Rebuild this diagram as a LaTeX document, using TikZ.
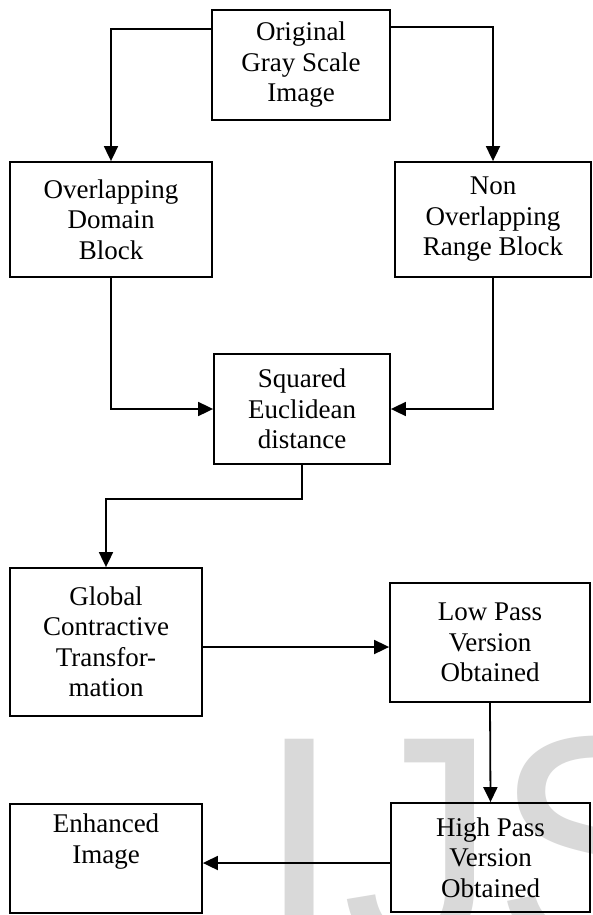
\documentclass[tikz,border=0pt]{standalone}
\usepackage{fontspec}
\setmainfont{Liberation Serif}
\newfontfamily\wmfont{Liberation Sans}
\usetikzlibrary{arrows.meta}
\begin{document}
\begin{tikzpicture}[x=1pt,y=-1pt,
  box/.style={draw=black, line width=1.8pt, inner sep=0pt, align=center,
    font=\fontsize{27}{30.5}\selectfont},
  arr/.style={line width=1.8pt, -{Triangle[length=15pt,width=14pt]}},
]
\useasboundingbox (0,0) rectangle (592,915);
\fill[white] (0,0) rectangle (592,915);
% watermark
\begin{scope}
\clip (0,0) rectangle (592,915);
\node[anchor=base west, inner sep=0pt, text=black!15,
  font=\wmfont\fontsize{310}{310}\selectfont] (wm) at (256,952) {IJ\kern-4pt SER};
\end{scope}
% boxes
\node[box, minimum width=178pt, minimum height=110pt] (orig) at (301,65) {Original\\Gray Scale\\Image};
\node[box, minimum width=202pt, minimum height=115pt] (ovl) at (111,219.5) {Overlapping\\Domain\\Block};
\node[box, minimum width=196pt, minimum height=115pt] (non) at (493,219.5) {Non\\Overlapping\\Range Block};
\node[box, minimum width=176pt, minimum height=110pt] (sq) at (302,409) {Squared\\Euclidean\\distance};
\node[box, minimum width=192pt, minimum height=148pt] (glob) at (106,642) {Global\\Contractive\\Transfor-\\mation};
\node[box, minimum width=200pt, minimum height=119pt] (low) at (490,642.5) {Low Pass\\Version\\Obtained};
\node[box, minimum width=199pt, minimum height=109pt] (high) at (490.5,857.5) {High Pass\\Version\\Obtained};
\node[box, minimum width=192pt, minimum height=109pt] (enh) at (106,858.5) {Enhanced\\Image\\\strut};
% helper coordinates
\coordinate (c1) at (0,29);
\coordinate (c2) at (0,27);
\coordinate (c4) at (0,499);
\coordinate (c5) at (0,647);
\coordinate (c6) at (0,863);
% connectors
\draw[arr] (orig.west |- c1) -| (ovl.north);
\draw[arr] (orig.east |- c2) -| (non.north);
\draw[arr] (ovl.south) |- (sq.west);
\draw[arr] (non.south) |- (sq.east);
\draw[arr] (sq.south) -- (sq.south |- c4) -| (glob.north);
\draw[arr] (glob.east |- c5) -- (low.west |- c5);
\draw[arr] (low.south) -- (high.north);
\draw[arr] (high.west |- c6) -- (enh.east |- c6);
\end{tikzpicture}
\end{document}
